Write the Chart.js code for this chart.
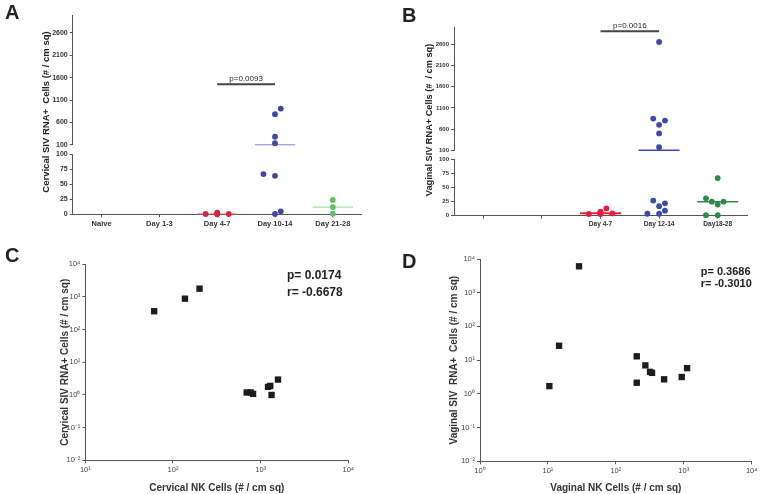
<!DOCTYPE html>
<html>
<head>
<meta charset="utf-8">
<script src="https://cdn.jsdelivr.net/npm/chart.js@4.4.0/dist/chart.umd.min.js"></script>
<style>
body { margin: 0; background: #fff; }
#fig { position: relative; width: 764px; height: 494px; overflow: hidden; font-family: "Liberation Sans", Arial, sans-serif; color: #222; }
#fig canvas { position: absolute; }
.letter { position: absolute; font-size: 20px; font-weight: bold; line-height: 20px; }
.ytitle { position: absolute; font-size: 9.5px; font-weight: bold; white-space: pre; transform: translate(-50%, -50%) rotate(-90deg); }
</style>
</head>
<body>
<div id="fig">
  <canvas id="aTop" width="380" height="151" style="left:0px;top:0px"></canvas>
  <canvas id="aBot" width="380" height="82" style="left:0px;top:148px"></canvas>
  <canvas id="bTop" width="384" height="156" style="left:380px;top:0px"></canvas>
  <canvas id="bBot" width="384" height="78" style="left:380px;top:154px"></canvas>
  <canvas id="cChart" width="380" height="254" style="left:0px;top:240px"></canvas>
  <canvas id="dChart" width="384" height="254" style="left:380px;top:240px"></canvas>
  <div class="letter" style="left:5px;top:2px">A</div>
  <div class="letter" style="left:402px;top:5px">B</div>
  <div class="letter" style="left:5px;top:245px">C</div>
  <div class="letter" style="left:402px;top:251px">D</div>
  <div class="ytitle" style="left:45px;top:112px">Cervical SIV RNA+  Cells (# / cm sq)</div>
  <div class="ytitle" style="left:429px;top:120px;font-size:9.2px">Vaginal SIV RNA+ Cells (#  / cm sq)</div>
</div>
<script>
// ---- data ----
const cervicalCategories = ["Naive", "Day 1-3", "Day 4-7", "Day 10-14", "Day 21-28"];
const cervicalDay4to7 = [2.6, 0.5, 0, 0.5, 1];
const cervicalDay10to14 = [909, 785, 282, 135, 67, 64, 0.5, 5];
const cervicalDay21to28 = [24, 12, 1];
const cervicalPValue = "p=0.0093";

const vaginalCategories = ["", "", "Day 4-7", "Day 12-14", "Day18-28"];
const vaginalDay4to7 = [13, 5, 3, 6, 4, 4, 7, 3];
const vaginalDay12to14 = [2650, 848, 801, 702, 500, 176, 27, 22, 17, 9, 3.5, 3.5];
const vaginalDay18to28 = [67, 31, 25, 25, 20, 1, 1];
const vaginalPValue = "p=0.0016";

const upperTicks = [100, 600, 1100, 1600, 2100, 2600];
const lowerTicks = [0, 25, 50, 75, 100];

const cervicalNK = [61, 137, 201, 693, 769, 820, 1214, 1288, 1333, 1578];
const cervicalSIV = [366, 887, 1795, 1.19, 1.2, 1.08, 1.77, 1.9, 1.0, 2.96];
const cervicalStats = ["p= 0.0174", "r= -0.6678"];

const vaginalNK = [28.7, 14.6, 10.5, 203, 203, 272, 319, 341, 513, 933, 1119];
const vaginalSIV = [6070, 26.7, 1.7, 13, 2.14, 7.0, 4.5, 4.2, 2.7, 3.16, 5.8];
const vaginalStats = ["p= 0.3686", "r= -0.3010"];

const cervicalNKTicks = [10, 100, 1000, 10000];
const vaginalNKTicks = [1, 10, 100, 1000, 10000];
const sivTicks = [0.01, 0.1, 1, 10, 100, 1000, 10000];

// ---- helpers ----
Chart.defaults.font.family = '"Liberation Sans", Arial, sans-serif';
Chart.defaults.color = "#333";
Chart.defaults.animation = false;

const AXIS = "#555";

function median(arr) {
  const s = [...arr].sort((a, b) => a - b);
  const n = s.length;
  return n % 2 ? s[(n - 1) / 2] : (s[n / 2 - 1] + s[n / 2]) / 2;
}

// spread dots sideways so they don't sit on top of each other (like a dot plot)
function swarm(values, geo) {
  const toPx = v => v <= 100 ? v * geo.lowPx / 100 : geo.lowPx + geo.gap + (v - 100) * geo.upPx / 2900;
  const order = values.map((v, i) => i).sort((a, b) => values[a] - values[b]);
  const slots = [0, 1, -1, -2, 2, 3, -3];
  const placed = [];
  const offs = values.map(() => 0);
  order.forEach(i => {
    const y = toPx(values[i]);
    for (const s of slots) {
      const x = s * geo.slotPx;
      if (placed.every(p => Math.hypot(p.x - x, p.y - y) >= 6.3)) {
        placed.push({x: x, y: y});
        offs[i] = s * 0.1;
        break;
      }
    }
  });
  return offs;
}

const pLabelPlugin = {
  id: "pLabel",
  afterDraw(chart) {
    const o = chart.options.plugins.pLabel;
    if (!o || !o.text) return;
    const ctx = chart.ctx;
    const x = chart.scales.x.getPixelForValue((o.from + o.to) / 2);
    const y = chart.scales.y.getPixelForValue(o.level);
    ctx.save();
    ctx.font = '8px "Liberation Sans", Arial, sans-serif';
    ctx.fillStyle = "#222";
    ctx.textAlign = "center";
    ctx.textBaseline = "alphabetic";
    ctx.fillText(o.text, x, y - 3);
    ctx.restore();
  }
};

const statsPlugin = {
  id: "stats",
  afterDraw(chart) {
    const o = chart.options.plugins.stats;
    if (!o || !o.lines) return;
    const ctx = chart.ctx;
    const a = chart.chartArea;
    ctx.save();
    ctx.font = "bold " + o.size + 'px "Liberation Sans", Arial, sans-serif';
    ctx.fillStyle = "#222";
    ctx.textAlign = "left";
    ctx.textBaseline = "middle";
    o.lines.forEach((t, i) => ctx.fillText(t, a.right - o.dx, a.top + o.y0 + i * o.dy));
    ctx.restore();
  }
};

function yAxis(min, max, ticks, width, fontSize) {
  return {
    min: min, max: max,
    afterFit: s => { s.width = width; },
    afterBuildTicks: s => { s.ticks = ticks.map(v => ({value: v})); },
    ticks: {callback: v => String(v), font: {size: fontSize, weight: "bold"}, color: "#333", padding: 2},
    grid: {drawOnChartArea: false, tickLength: 3, color: AXIS},
    border: {color: AXIS, width: 1}
  };
}

function buildTopPanel(ids, cats, groups, pText, L) {
  const upper = [], lower = [];
  groups.forEach(g => {
    const offs = swarm(g.values, L.geo);
    const pts = g.values.map((v, i) => ({x: g.cat + offs[i], y: v}));
    const dot = {pointRadius: 2.9, pointBackgroundColor: g.color, pointBorderWidth: 0, clip: false, order: 0};
    upper.push(Object.assign({data: pts.filter(p => p.y > 100)}, dot));
    lower.push(Object.assign({data: pts.filter(p => p.y <= 100)}, dot));
    const m = median(g.values);
    const med = {
      type: "line",
      data: [{x: g.cat - 0.35, y: m}, {x: g.cat + 0.35, y: m}],
      borderColor: g.lineColor, borderWidth: g.lineWidth, pointRadius: 0, clip: false, order: 1
    };
    (m > 100 ? upper : lower).push(med);
  });
  // significance bracket between Day 4-7 and the peak group
  upper.push({
    type: "line",
    data: [{x: 2, y: L.bracket}, {x: 3, y: L.bracket}],
    borderColor: "#444", borderWidth: 2, pointRadius: 0, clip: false, order: 2
  });

  const common = {responsive: false, animation: false, events: []};

  new Chart(document.getElementById(ids[0]), {
    type: "scatter",
    data: {datasets: upper},
    options: Object.assign({}, common, {
      layout: {padding: {left: 0, right: L.right, top: L.upTop, bottom: L.upBottom}},
      plugins: {legend: {display: false}, tooltip: {enabled: false},
        pLabel: {text: pText, from: 2, to: 3, level: L.bracket}},
      scales: {
        x: {type: "linear", display: false, min: -0.5, max: cats.length - 0.5},
        y: yAxis(100, 3000, upperTicks, L.axisW, L.tickSize)
      }
    }),
    plugins: [pLabelPlugin]
  });

  new Chart(document.getElementById(ids[1]), {
    type: "scatter",
    data: {datasets: lower},
    options: Object.assign({}, common, {
      layout: {padding: {left: 0, right: L.right, top: L.lowTop, bottom: 0}},
      plugins: {legend: {display: false}, tooltip: {enabled: false}},
      scales: {
        x: {
          type: "linear", min: -0.5, max: cats.length - 0.5,
          afterBuildTicks: s => { s.ticks = cats.map((c, i) => ({value: i})); },
          afterFit: s => { s.height = L.xAxisH; },
          ticks: {callback: v => cats[v], font: {size: L.labelSize, weight: "bold"}, color: "#333",
            maxRotation: 0, autoSkip: false, padding: 2},
          grid: {drawOnChartArea: false, tickLength: 3, color: AXIS},
          border: {color: AXIS, width: 1}
        },
        y: yAxis(0, 100, lowerTicks, L.axisW, L.tickSize)
      }
    })
  });
}

buildTopPanel(["aTop", "aBot"], cervicalCategories, [
  {cat: 2, values: cervicalDay4to7, color: "#d8243f", lineColor: "#e35a70", lineWidth: 1},
  {cat: 3, values: cervicalDay10to14, color: "#3d48a2", lineColor: "#8489d4", lineWidth: 1},
  {cat: 4, values: cervicalDay21to28, color: "#5fbf64", lineColor: "#8ad88c", lineWidth: 1}
], cervicalPValue, {
  axisW: 72.7, right: 18.3, upTop: 15, upBottom: 4, lowTop: 6, xAxisH: 15.7, bracket: 1455,
  tickSize: 7, labelSize: 7.5,
  geo: {lowPx: 60.3, upPx: 132, gap: 7, slotPx: 5.78}
});

buildTopPanel(["bTop", "bBot"], vaginalCategories, [
  {cat: 2, values: vaginalDay4to7, color: "#e41f3d", lineColor: "#e8203f", lineWidth: 2},
  {cat: 3, values: vaginalDay12to14, color: "#3c4aab", lineColor: "#3b4bbf", lineWidth: 1.5},
  {cat: 4, values: vaginalDay18to28, color: "#2e8a48", lineColor: "#2f8f4a", lineWidth: 1.5}
], vaginalPValue, {
  axisW: 74, right: 17, upTop: 27, upBottom: 3.7, lowTop: 5, xAxisH: 16.3, bracket: 2900,
  tickSize: 6, labelSize: 6.6,
  geo: {lowPx: 56.7, upPx: 125.3, gap: 6.7, slotPx: 5.86}
});

// ---- log-log scatter panels ----
const sup = {"-": "\u207B", "0": "\u2070", "1": "\u00B9", "2": "\u00B2", "3": "\u00B3", "4": "\u2074"};
function pow10Label(v) {
  const e = Math.round(Math.log10(v));
  return "10" + String(e).split("").map(c => sup[c]).join("");
}

function logAxis(min, max, ticks, title, titlePad, fitSize, horizontal) {
  const ax = {
    type: "logarithmic", min: min, max: max,
    afterBuildTicks: s => { s.ticks = ticks.map(v => ({value: v})); },
    ticks: {callback: v => pow10Label(v), font: {size: 7.5}, color: "#444", padding: 2, maxRotation: 0, autoSkip: false},
    grid: {drawOnChartArea: false, tickLength: 3, color: AXIS},
    border: {color: AXIS, width: 1},
    title: {display: true, text: title, font: {size: 10, weight: "bold"}, color: "#333", padding: {top: titlePad, bottom: 0}}
  };
  ax.afterFit = horizontal ? s => { s.height = fitSize; } : s => { s.width = fitSize; };
  return ax;
}

function buildScatter(id, xs, ys, xTicks, xTitle, yTitle, stats, L) {
  new Chart(document.getElementById(id), {
    type: "scatter",
    data: {datasets: [{
      data: xs.map((x, i) => ({x: x, y: ys[i]})),
      pointStyle: "rect", pointRadius: 4.5, pointBackgroundColor: "#1c1c1c", pointBorderWidth: 0, clip: false
    }]},
    options: {
      responsive: false, animation: false, events: [],
      layout: {padding: {left: 0, right: L.right, top: L.top, bottom: 0}},
      plugins: {legend: {display: false}, tooltip: {enabled: false},
        stats: {lines: stats, size: L.statSize, dx: L.statDx, y0: L.statY0, dy: L.statDy}},
      scales: {
        x: logAxis(xTicks[0], xTicks[xTicks.length - 1], xTicks, xTitle, L.xTitlePad, L.xAxisH, true),
        y: logAxis(0.01, 10000, sivTicks, yTitle, L.yTitlePad, L.yAxisW, false)
      }
    },
    plugins: [statsPlugin]
  });
}

buildScatter("cChart", cervicalNK, cervicalSIV, cervicalNKTicks,
  "Cervical NK Cells (# / cm sq)", "Cervical SIV RNA+ Cells (# / cm sq)", cervicalStats,
  {right: 31.7, top: 24.3, xAxisH: 33.7, yAxisW: 85.3, xTitlePad: 4.7, yTitlePad: 59.3,
   statSize: 12, statDx: 61.3, statY0: 11.4, statDy: 17});

buildScatter("dChart", vaginalNK, vaginalSIV, vaginalNKTicks,
  "Vaginal NK Cells (# / cm sq)", "Vaginal SIV  RNA+  Cells (# / cm sq)", vaginalStats,
  {right: 12.3, top: 19, xAxisH: 32.7, yAxisW: 100, xTitlePad: 3.7, yTitlePad: 68,
   statSize: 11, statDx: 51, statY0: 13.3, statDy: 11.4});
</script>
</body>
</html>
